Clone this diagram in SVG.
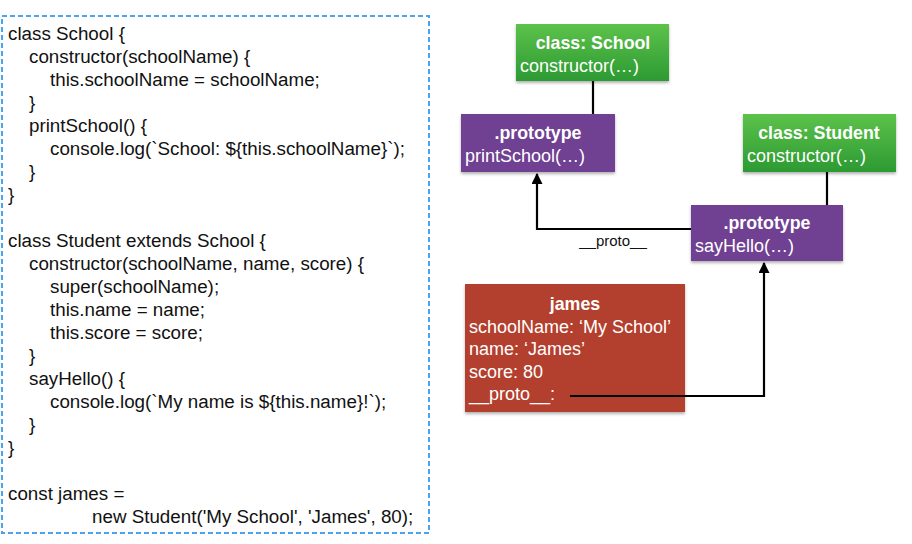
<svg xmlns="http://www.w3.org/2000/svg" width="912" height="544" viewBox="0 0 912 544">
<defs>
<linearGradient id="gGreen" x1="0" y1="0" x2="0" y2="1">
<stop offset="0" stop-color="#5dc24a"/>
<stop offset="1" stop-color="#2c9a33"/>
</linearGradient>
<filter id="sh" x="-10%" y="-10%" width="120%" height="130%">
<feDropShadow dx="0" dy="2" stdDeviation="1.5" flood-color="#000" flood-opacity="0.3"/>
</filter>
<marker id="arr" viewBox="0 0 10 10" refX="9" refY="5" markerWidth="5" markerHeight="5" orient="auto" markerUnits="strokeWidth">
<path d="M0,0 L10,5 L0,10 z" fill="#000"/>
</marker>
<style>
.code{font-family:"Liberation Sans",Arial,sans-serif;font-size:18.8px;fill:#111;}
.t{font-family:"Liberation Sans",Arial,sans-serif;font-size:18px;fill:#fff;}
.b{font-weight:bold;text-anchor:middle;font-size:17.8px;}
.green{fill:url(#gGreen);filter:url(#sh);}
.purple{fill:#6f4192;filter:url(#sh);}
.red{fill:#b3412f;filter:url(#sh);}
.ln{stroke:#000;stroke-width:2.2;fill:none;}
.lbl{font-family:"Liberation Sans",Arial,sans-serif;font-size:15px;fill:#111;text-anchor:middle;}
</style>
</defs>
<rect width="912" height="544" fill="#fff"/>
<g id="code">
<rect x="2" y="16" width="427" height="517" fill="none" stroke="#4aa3ee" stroke-width="2" stroke-dasharray="5,3"/>
<text class="code" x="8" y="40">class School {</text>
<text class="code" x="29" y="63">constructor(schoolName) {</text>
<text class="code" x="50" y="86">this.schoolName = schoolName;</text>
<text class="code" x="29" y="109">}</text>
<text class="code" x="29" y="132">printSchool() {</text>
<text class="code" x="50" y="155">console.log(`School: ${this.schoolName}`);</text>
<text class="code" x="29" y="178">}</text>
<text class="code" x="8" y="201">}</text>
<text class="code" x="8" y="247">class Student extends School {</text>
<text class="code" x="29" y="270">constructor(schoolName, name, score) {</text>
<text class="code" x="50" y="293">super(schoolName);</text>
<text class="code" x="50" y="316">this.name = name;</text>
<text class="code" x="50" y="339">this.score = score;</text>
<text class="code" x="29" y="362">}</text>
<text class="code" x="29" y="385">sayHello() {</text>
<text class="code" x="50" y="408">console.log(`My name is ${this.name}!`);</text>
<text class="code" x="29" y="431">}</text>
<text class="code" x="8" y="454">}</text>
<text class="code" x="8" y="500">const james =</text>
<text class="code" x="92" y="523">new Student('My School', 'James', 80);</text>
</g>
<g id="connectors">
<line class="ln" x1="593" y1="81" x2="593" y2="114"/>
<line class="ln" x1="827" y1="172" x2="827" y2="205"/>
<polyline class="ln" points="691,229 537,229 537,174" marker-end="url(#arr)"/>
<text class="lbl" x="613" y="246">__proto__</text>
<polyline class="ln" points="570,396 764,396 764,263" marker-end="url(#arr)"/>
</g>
<g id="schoolClass">
<rect class="green" x="516" y="24" width="153" height="57"/>
<text class="t b" x="593" y="49">class: School</text>
<text class="t" x="520" y="72">constructor(…)</text>
</g>
<g id="schoolProto">
<rect class="purple" x="461" y="114" width="154" height="58"/>
<text class="t b" x="538" y="139">.prototype</text>
<text class="t" x="465" y="162">printSchool(…)</text>
</g>
<g id="studentClass">
<rect class="green" x="743" y="114" width="153" height="58"/>
<text class="t b" x="819" y="139">class: Student</text>
<text class="t" x="747" y="162">constructor(…)</text>
</g>
<g id="studentProto">
<rect class="purple" x="691" y="205" width="152" height="56"/>
<text class="t b" x="767" y="229">.prototype</text>
<text class="t" x="695" y="252">sayHello(…)</text>
</g>
<g id="james">
<rect class="red" x="465" y="284" width="220" height="128"/>
<text class="t b" x="575" y="310">james</text>
<text class="t" x="469" y="333">schoolName: ‘My School’</text>
<text class="t" x="469" y="355">name: ‘James’</text>
<text class="t" x="469" y="378">score: 80</text>
<text class="t" x="469" y="400">__proto__:</text>
</g>
<line class="ln" x1="570" y1="396" x2="764" y2="396"/>
</svg>
